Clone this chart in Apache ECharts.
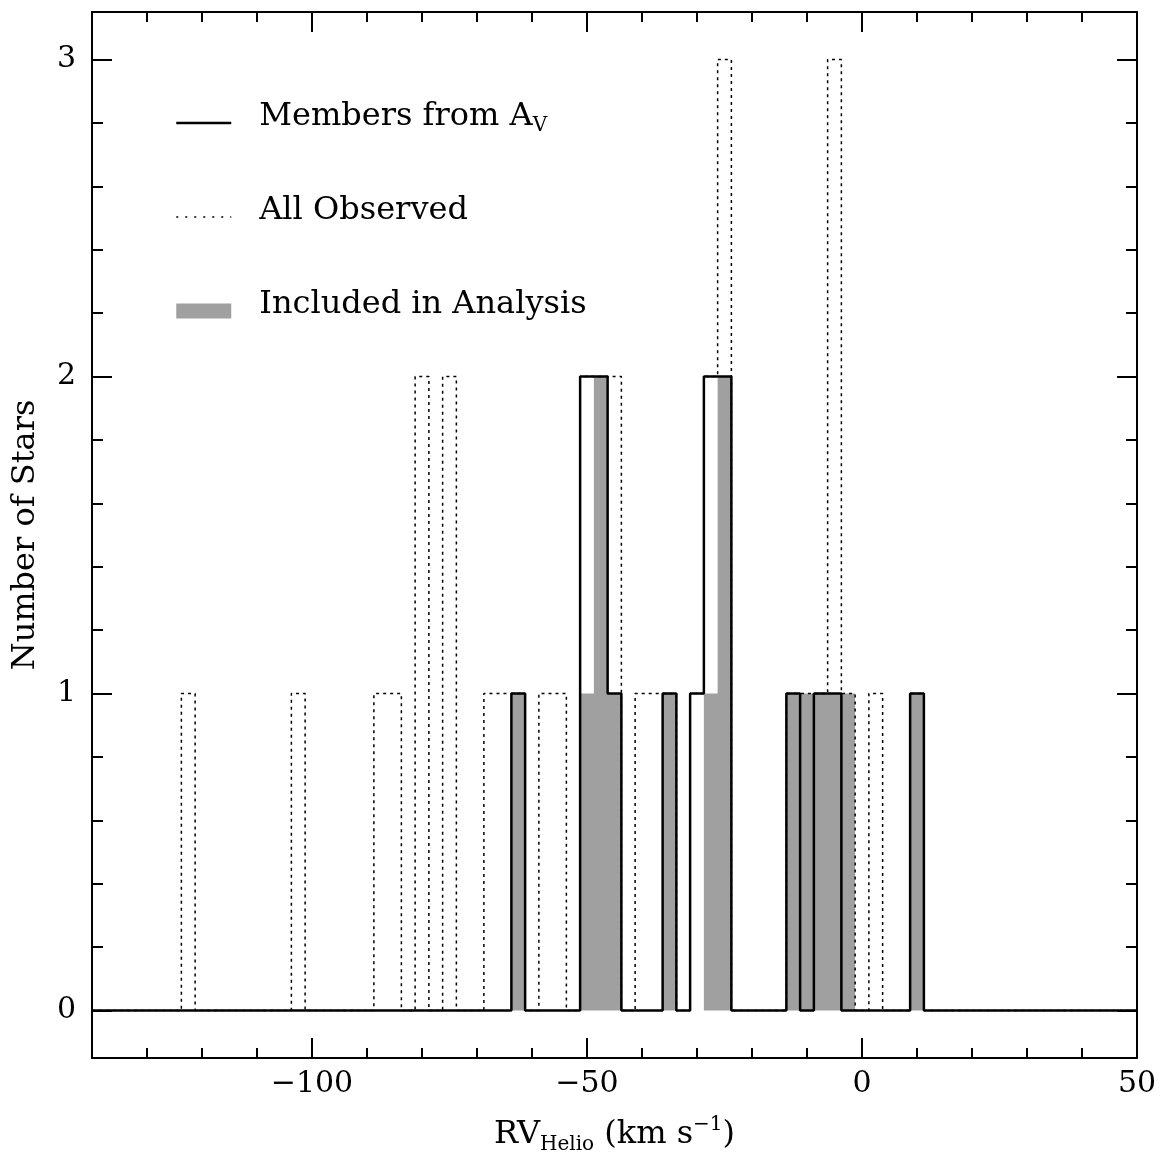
<!DOCTYPE html>
<html>
<head>
<meta charset="utf-8">
<script src="https://cdn.jsdelivr.net/npm/echarts@6/dist/echarts.min.js"></script>
<style>html,body{margin:0;padding:0;background:#fff}#c{width:1161px;height:1152px}</style>
</head>
<body>
<div id="c"></div>
<script>
// ---- data (bin centres, km/s; bin width 2.5) ----
const binWidth = 2.5;
const xRange = [-140, 50];
const yRange = [-0.15, 3.15];
const observedCenters = [-122.5, -102.5, -87.5, -85, -80, -75, -67.5, -65, -62.5, -57.5, -55, -50, -47.5, -45, -40, -37.5, -35, -30, -27.5, -25, -12.5, -10, -7.5, -5, -2.5, 2.5, 10];
const observedCounts  = [1, 1, 1, 1, 2, 2, 1, 1, 1, 1, 1, 2, 2, 2, 1, 1, 1, 1, 2, 3, 1, 1, 1, 3, 1, 1, 1];
const membersCenters  = [-62.5, -50, -47.5, -45, -35, -30, -27.5, -25, -12.5, -7.5, -5, 10];
const membersCounts   = [1, 2, 2, 1, 1, 1, 2, 2, 1, 1, 1, 1];
const includedCenters = [-62.5, -50, -47.5, -45, -35, -27.5, -25, -12.5, -10, -7.5, -5, -2.5, 10];
const includedCounts  = [1, 1, 2, 1, 1, 1, 2, 1, 1, 1, 1, 1, 1];
const xMajorTicks = [-100, -50, 0, 50];
const xMinorTicks = [-130, -120, -110, -90, -80, -70, -60, -40, -30, -20, -10, 10, 20, 30, 40];
const yMajorTicks = [0, 1, 2, 3];
const yMinorTicks = [0.2, 0.4, 0.6, 0.8, 1.2, 1.4, 1.6, 1.8, 2.2, 2.4, 2.6, 2.8];
const seriesNames = ['Members from A_V', 'All Observed', 'Included in Analysis'];

// ---- helpers ----
function toSteps(centers, counts) {
  const m = new Map(centers.map((c, i) => [Math.round(c / binWidth), counts[i]]));
  const out = [];
  const k0 = Math.round(xRange[0] / binWidth), k1 = Math.round(xRange[1] / binWidth);
  for (let k = k0; k <= k1; k++) out.push([k * binWidth, m.get(k) || 0]);
  return out;
}
const font = 'DejaVu Serif';
const black = '#000';
const gray = '#a0a0a0';
const tickLine = { color: black, width: 2 };
const frame = { show: true, onZero: false, lineStyle: { color: black, width: 2 } };
const fmt = v => (v < 0 ? '\u2212' + Math.abs(v) : String(v));

function xAxisDef(pos, major) {
  return {
    type: 'value', min: xRange[0], max: xRange[1], position: pos,
    axisLine: major ? frame : { show: false, onZero: false },
    axisTick: { show: true, inside: true, length: major ? 20 : 10, customValues: major ? xMajorTicks : xMinorTicks, lineStyle: tickLine },
    axisLabel: { show: false },
    splitLine: { show: false }
  };
}
function yAxisDef(pos, major) {
  return {
    type: 'value', min: yRange[0], max: yRange[1], position: pos,
    axisLine: major ? frame : { show: false, onZero: false },
    axisTick: { show: true, inside: true, length: major ? 20 : 11, customValues: major ? yMajorTicks : yMinorTicks, lineStyle: tickLine },
    axisLabel: { show: false },
    splitLine: { show: false }
  };
}

const xMain = xAxisDef('bottom', true);
xMain.axisLabel = { show: true, customValues: xMajorTicks, formatter: fmt, fontFamily: font, fontSize: 30, color: black, margin: 11 };
xMain.name = '{a|RV}{s|Helio}{a| (km s}{p|\u22121}{a|)}';
xMain.nameLocation = 'middle';
xMain.nameGap = 57;
xMain.nameTextStyle = {
  rich: {
    a: { fontFamily: font, fontSize: 32, color: black, lineHeight: 40 },
    s: { fontFamily: font, fontSize: 20, color: black, lineHeight: 20, verticalAlign: 'bottom' },
    p: { fontFamily: font, fontSize: 20, color: black, lineHeight: 22, verticalAlign: 'top' }
  }
};
const yMain = yAxisDef('left', true);
yMain.axisLabel = { show: true, customValues: yMajorTicks, formatter: fmt, fontFamily: font, fontSize: 30, color: black, margin: 16 };
yMain.name = 'Number of Stars';
yMain.nameLocation = 'middle';
yMain.nameGap = 44;
yMain.nameTextStyle = { fontFamily: font, fontSize: 32, color: black, lineHeight: 40 };

const option = {
  animation: false,
  backgroundColor: '#fff',
  grid: { left: 92, right: 24, top: 12, bottom: 94, outerBoundsMode: 'none', containLabel: false },
  xAxis: [xMain, xAxisDef('bottom', false), xAxisDef('top', true), xAxisDef('top', false)],
  yAxis: [yMain, yAxisDef('left', false), yAxisDef('right', true), yAxisDef('right', false)],
  legend: {
    orient: 'vertical', left: 175, top: 101, padding: 0, itemWidth: 55, itemHeight: 15, itemGap: 50,
    selectedMode: false,
    data: [
      { name: seriesNames[0], lineStyle: { width: 2.5, color: black }, itemStyle: { opacity: 0 } },
      { name: seriesNames[1], lineStyle: { width: 1.5, color: black, type: [2, 7] }, itemStyle: { opacity: 0 } },
      { name: seriesNames[2], icon: 'rect', itemStyle: { color: gray, borderWidth: 0 } }
    ],
    formatter: n => n === seriesNames[0] ? '{t|Members from A}{s|V}' : '{t|' + n + '}',
    textStyle: {
      rich: {
        t: { fontFamily: font, fontSize: 32, color: black, lineHeight: 40, padding: [0, 0, 12, 23] },
        s: { fontFamily: font, fontSize: 20, color: black, lineHeight: 22, verticalAlign: 'bottom', padding: [0, 0, 7, 0] }
      }
    }
  },
  series: [
    {
      name: seriesNames[2], type: 'line', step: 'middle', symbol: 'none', z: 1,
      data: toSteps(includedCenters, includedCounts),
      itemStyle: { color: gray },
      lineStyle: { width: 0, color: gray },
      areaStyle: { color: gray, opacity: 1 }
    },
    {
      name: seriesNames[1], type: 'line', step: 'middle', symbol: 'none', z: 2,
      data: toSteps(observedCenters, observedCounts),
      itemStyle: { color: black },
      lineStyle: { width: 1.5, color: black, type: [3, 4] }
    },
    {
      name: seriesNames[0], type: 'line', step: 'middle', symbol: 'none', z: 3,
      data: toSteps(membersCenters, membersCounts),
      itemStyle: { color: black },
      lineStyle: { width: 2.5, color: black }
    }
  ]
};
const chart = echarts.init(document.getElementById('c'), null, { renderer: 'canvas' });
chart.setOption(option);
</script>
</body>
</html>
